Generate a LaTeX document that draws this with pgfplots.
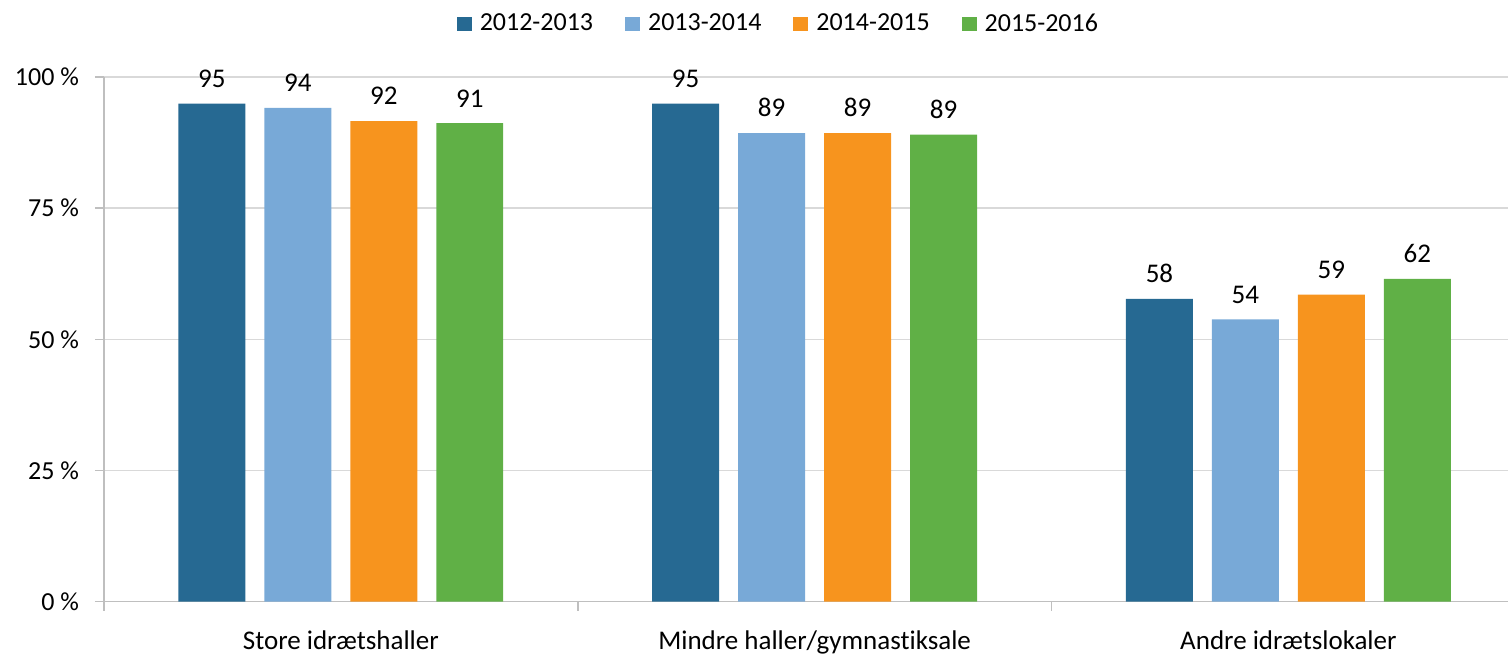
\documentclass[border=0pt]{standalone}
\usepackage{fontspec}
\setmainfont{Carlito}[Ligatures=NoCommon]
\usepackage{pgfplots}
\pgfplotsset{compat=1.18}
\definecolor{c1}{RGB}{38,105,146}
\definecolor{c2}{RGB}{120,169,215}
\definecolor{c3}{RGB}{247,148,30}
\definecolor{c4}{RGB}{96,176,70}
\definecolor{gridc}{RGB}{217,217,217}
\definecolor{axc}{RGB}{191,191,191}
\begin{document}
\begin{tikzpicture}[font=\fontsize{13}{15.6}\selectfont]
\begin{axis}[
  scale only axis, width=702.5pt, height=262.5pt,
  xmin=-0.5, xmax=2.464, ymin=0, ymax=100,
  ybar=9.5pt, bar width=33.5pt,
  axis x line*=bottom, axis y line*=left,
  axis line style={axc, line width=0.8pt, -},
  tick align=outside, major tick length=4.5pt,
  every tick/.style={axc, line width=0.8pt},
  ytick={0,25,50,75,100},
  /pgf/number format/assume math mode=true,
  yticklabel={\pgfmathprintnumber{\tick}~\%},
  yticklabel style={xshift=-4.5pt},
  ymajorgrids, grid style={gridc, line width=0.8pt},
  xtick={-0.5,0.5,1.5}, xticklabels={},
  extra x ticks={0,1,2},
  extra x tick labels={Store idrætshaller, Mindre haller/gymnastiksale, Andre idrætslokaler},
  extra x tick style={major tick length=0pt, grid=none, xticklabel style={yshift=-11pt, font=\fontsize{13.5}{16}\selectfont}},
  nodes near coords, point meta=explicit symbolic,
  every node near coord/.append style={yshift=4.5pt, black, font=\fontsize{13.5}{16}\selectfont},
  legend style={at={(0.481,1.101)}, anchor=center, draw=none, legend columns=4,
    /tikz/every odd column/.append style={column sep=2pt},
    /tikz/every even column/.append style={column sep=14pt}, font=\fontsize{13}{15.6}\selectfont},
  legend image code/.code={\fill[#1] (0pt,-3.5pt) rectangle (7.5pt,3.5pt);},
]
\addplot[fill=c1, draw=none] coordinates {(0,94.9)[95] (1,94.9)[95] (2,57.7)[58]};
\addplot[fill=c2, draw=none] coordinates {(0,94.1)[94] (1,89.3)[89] (2,53.8)[54]};
\addplot[fill=c3, draw=none] coordinates {(0,91.6)[92] (1,89.3)[89] (2,58.5)[59]};
\addplot[fill=c4, draw=none] coordinates {(0,91.2)[91] (1,89.0)[89] (2,61.5)[62]};
\legend{2012-2013, 2013-2014, 2014-2015, 2015-2016}
\end{axis}
\path ([xshift=-52pt,yshift=-24pt]current axis.south west) rectangle ([yshift=38.5pt]current axis.north east);
\end{tikzpicture}
\end{document}
